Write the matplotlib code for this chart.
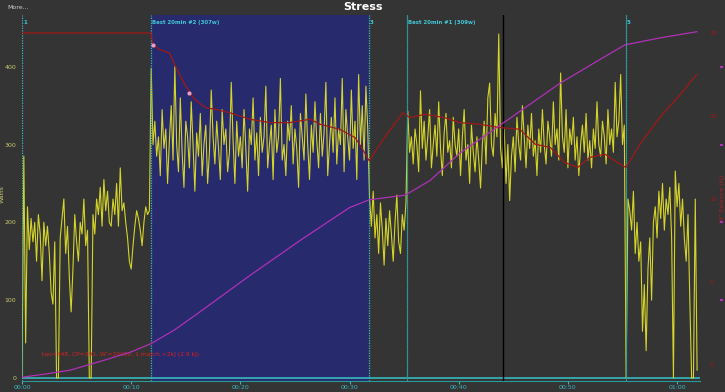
import numpy as np
import matplotlib
matplotlib.use("Agg")
import matplotlib.pyplot as plt

"""
GoldenCheetah style 'Stress' ride plot: power, W' balance and cumulative stress
"""

SAMPLE_SEC = 10  # power sample spacing (s)

# power (W), one value per 10 s, split by interval
power_start = [0, 285, 45, 220, 165, 205, 175, 200, 150, 210, 185, 125, 200, 170, 195, 160,
               110, 95, 175, 0, 0, 180, 205, 230, 160, 195, 130, 85, 140, 210, 175, 150,
               200, 185, 230, 170, 190, 0, 0, 210, 185, 230, 210, 245, 195, 255, 215, 240,
               200, 195, 230, 210, 250, 195, 270, 215, 225, 200, 180, 150, 140, 170, 195,
               215, 205, 190, 170, 200, 220, 210, 215]
power_best2 = [398, 300, 330, 285, 310, 260, 345, 295, 320, 250, 305, 350, 280, 400, 300, 265,
               360, 290, 245, 330, 310, 270, 355, 300, 240, 315, 285, 340, 260, 300, 325, 250,
               290, 370, 310, 275, 330, 295, 255, 345, 300, 320, 265, 290, 380, 305, 250, 330,
               285, 310, 270, 345, 295, 240, 320, 300, 360, 280, 315, 260, 335, 290, 310, 375,
               270, 300, 325, 255, 345, 290, 310, 385, 280, 300, 260, 330, 305, 350, 275, 320,
               295, 245, 340, 310, 280, 365, 300, 255, 325, 290, 355, 305, 270, 340, 285, 315,
               380, 260, 300, 335, 290, 360, 275, 320, 300, 385, 265, 345, 310, 280, 370, 295,
               330, 255, 390, 300, 350, 280, 375, 320]
power_mid = [230, 195, 240, 180, 210, 160, 225, 190, 145, 205, 170, 215, 185, 150, 200, 235,
             175, 160, 210, 190, 225]
power_best1 = [343, 290, 310, 275, 320, 300, 265, 369, 295, 330, 280, 310, 345, 270, 300, 325,
               285, 355, 295, 260, 315, 340, 290, 305, 270, 335, 300, 285, 320, 260, 310, 345,
               280, 300, 250, 325, 290, 265, 310, 280, 244, 300, 330, 275, 360, 379, 300, 285,
               340, 310, 442, 295, 270, 320, 250, 300, 228, 285, 310, 265, 335, 300, 280, 350,
               310, 270, 325, 295, 340, 285, 305, 260, 320, 290, 345, 300, 275, 330, 310, 285,
               355, 300, 320, 280, 392, 310, 290, 345, 270, 320, 300, 335, 280, 310, 260, 300,
               325, 290, 340, 280, 305, 270, 320, 295, 355, 300, 285, 330, 310, 275, 345, 300,
               320, 290, 380, 310, 330, 390, 300, 325]
power_end = [0, 230, 215, 190, 240, 160, 200, 150, 175, 60, 120, 35, 140, 180, 100, 200,
             220, 180, 240, 205, 250, 190, 230, 210, 245, 180, 0, 266, 220, 250, 195, 230,
             180, 150, 210, 100, 0, 0, 230, 10]

# W' balance (kJ) against time (min)
wbal_min = [0, 11.8, 12.0, 12.6, 13.5, 14.2, 14.9, 15.8, 16.8, 17.7, 19.0, 20.9, 22.7, 24.5,
            26.4, 27.3, 29.1, 30.5, 31.1, 31.8, 33.2, 34.9, 35.5, 36.9, 38.7, 40.1, 41.9,
            43.8, 45.6, 47.0, 48.4, 49.7, 50.9, 52.0, 53.4, 54.3, 55.3, 56.6, 58.4, 60.3, 61.8]
wbal_kj = [20.0, 20.0, 19.3, 19.0, 18.8, 17.8, 16.9, 16.0, 15.5, 15.4, 15.2, 14.8, 14.6, 14.6,
           14.8, 14.5, 14.2, 13.7, 13.1, 12.3, 13.7, 15.2, 14.9, 15.1, 14.9, 14.6, 14.5,
           14.3, 14.2, 13.3, 13.1, 12.2, 11.9, 12.5, 12.7, 12.3, 11.9, 13.3, 14.9, 16.3, 17.5]
match_min = [12.0, 15.3]
match_kj = [19.3, 16.4]

# cumulative stress against time (min)
stress_min = [0, 2.1, 4.4, 7.1, 9.9, 11.8, 14.0, 16.3, 20.9, 25.5, 30.0, 31.8, 35.1, 37.4,
              40.1, 43.8, 49.3, 52.9, 55.2, 58.4, 61.8]
stress_val = [0.1, 0.5, 1.0, 2.1, 3.3, 4.4, 6.2, 8.5, 13.2, 17.7, 21.9, 22.9, 23.5, 25.4,
              28.9, 32.5, 37.9, 40.9, 42.8, 43.7, 44.5]

# interval markers (min)
marker_min = [0.0, 11.81, 31.78, 35.26, 55.31]
marker_text = ["1", "Best 20min #2 (307w)", "3", "Best 20min #1 (309w)", "5"]
best_span = (11.81, 31.78)
cursor_min = 44.05

x_ticks = [0, 10, 20, 30, 40, 50, 60]
x_labels = ["00:00", "00:10", "00:20", "00:30", "00:40", "00:50", "01:00"]

BG = "#343434"
CYAN = "#38b8c0"

power = np.array(power_start + power_best2 + power_mid + power_best1 + power_end)
t_min = np.arange(len(power)) * SAMPLE_SEC / 60.0

fig = plt.figure(figsize=(7.25, 3.92), dpi=100, facecolor=BG)
ax = fig.add_axes([22 / 725, 11 / 392, 678 / 725, 366 / 392], facecolor=BG)

ax.axvspan(best_span[0], best_span[1], color="#272a6c", lw=0, zorder=0)
ax.plot(t_min, power, color="#d4d42a", lw=0.8, zorder=3)
ax.axhline(0, color=CYAN, lw=1.2, zorder=2)
ax.axvline(cursor_min, color="black", lw=1.0, zorder=4)

for m, txt in zip(marker_min, marker_text):
    ax.axvline(m, color=CYAN, lw=0.9, ls=(0, (1, 1)), zorder=4)
    ax.text(m + 0.1, 460, txt, color="#40c8d8", fontsize=3.9, fontweight="bold",
            va="top", ha="left")
for m in (35.26, 55.31):
    ax.axvline(m, color="#2a9a9a", lw=0.6, zorder=4)

ax.set_xlim(0, 62.1)
ax.set_ylim(-3.9, 466.5)
ax.set_xticks(x_ticks)
ax.set_xticklabels(x_labels)
ax.set_yticks([0, 100, 200, 300, 400])
ax.tick_params(axis="x", colors=CYAN, labelsize=4.5, length=2, pad=1)
ax.tick_params(axis="y", colors="#c8c870", labelsize=4.5, length=0, pad=4)
ax.set_ylabel("Watts", color="#c8c870", fontsize=4.5)
ax.yaxis.set_label_coords(-0.025, 0.51)
for s in ax.spines.values():
    s.set_visible(False)
ax.spines["bottom"].set_visible(True)
ax.spines["bottom"].set_color("#2a9a9a")

ax.text(9.0, 30, "tau=548, CP=291, W'=20000, 1 match >2kJ (2.9 kJ)", color="#d82020",
        fontsize=4.3, ha="center", va="center", zorder=5)

# W' balance axis
ax2 = ax.twinx()
ax2.plot(wbal_min, wbal_kj, color="#a01818", lw=0.9, zorder=3)
ax2.plot(match_min, match_kj, "o", color="#e8a0c0", ms=2, zorder=4)
ax2.set_ylim(-0.96, 21.08)
ax2.set_yticks([0, 5, 10, 15, 20])
ax2.tick_params(axis="y", colors="#a01818", labelsize=4.5, length=0, pad=7)
ax2.set_ylabel("W' Balance (kJ)", color="#b02020", fontsize=4.5, labelpad=2)
for s in ax2.spines.values():
    s.set_visible(False)

# cumulative stress axis (only its tick marks fit inside the figure)
ax3 = ax.twinx()
ax3.plot(stress_min, stress_val, color="#b030b8", lw=0.9, zorder=3)
ax3.set_ylim(-0.39, 46.65)
ax3.set_yticks([10, 20, 30, 40])
ax3.spines["right"].set_position(("axes", 1.029))
ax3.tick_params(axis="y", colors="#b030b8", length=2, width=1.5, labelright=False)
for s in ax3.spines.values():
    s.set_visible(False)

fig.text(0.5, 0.982, "Stress", color="white", fontsize=8, fontweight="bold",
         ha="center", va="center")
fig.text(0.01, 0.982, "More...", color="#d0d0d0", fontsize=4.5, ha="left", va="center")

fig.savefig("out.png", dpi=100, facecolor=BG)
